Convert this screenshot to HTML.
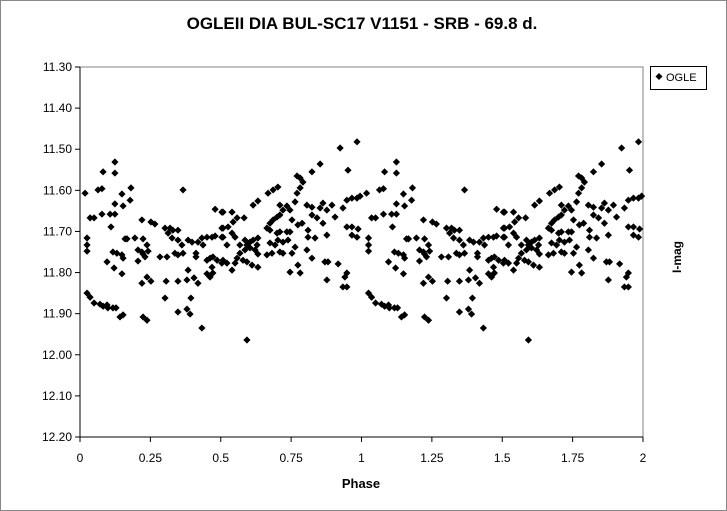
<!DOCTYPE html>
<html><head><meta charset="utf-8"><style>
body{margin:0;background:#fff;}
svg{display:block;font-family:"Liberation Sans",Arial,sans-serif;}
</style></head><body>
<svg id="chart" width="727" height="511" viewBox="0 0 727 511" xmlns="http://www.w3.org/2000/svg">
<rect x="0.5" y="0.5" width="726" height="510" fill="#fff" stroke="#888"/>
<text x="362" y="29" text-anchor="middle" font-size="17" font-weight="bold">OGLEII DIA BUL-SC17 V1151 - SRB - 69.8 d.</text>
<rect x="80" y="67" width="563" height="370" fill="#fff" stroke="#808080"/>
<g id="yaxis"></g>
<g id="xaxis"></g>
<g id="points"></g>
<text x="361" y="488" text-anchor="middle" font-size="13" font-weight="bold">Phase</text>
<text x="0" y="0" transform="translate(681,257) rotate(-90)" text-anchor="middle" font-size="12" font-weight="bold">I-mag</text>
<g>
<rect x="650.5" y="66.5" width="56" height="23" fill="#fff" stroke="#000"/>
<path d="M659,73 L662.5,76.5 L659,80 L655.5,76.5Z" fill="#000"/>
<text x="666" y="81" font-size="11">OGLE</text>
</g>
</svg>
<script>
const xTicks=[0,0.25,0.5,0.75,1,1.25,1.5,1.75,2];
const xTickLabels=["0","0.25","0.5","0.75","1","1.25","1.5","1.75","2"];
const yTicks=[11.3,11.4,11.5,11.6,11.7,11.8,11.9,12.0,12.1,12.2];
const yTickLabels=["11.30","11.40","11.50","11.60","11.70","11.80","11.90","12.00","12.10","12.20"];
const phases=[.018,.025,.025,.025,.036,.050,.064,.078,.082,.124,.124,.078,.107,.124,.110,.124,.149,.153,.178,.181,.160,.167,.195,.224,.117,.131,.149,.153,.096,.121,.149,.206,.220,.224,.231,.238,.242,.206,.220,.252,.266,.238,.252,.220,
.025,.036,.050,.071,.082,.096,.099,.117,.128,.142,.153,.224,.238,.302,.348,.380,.391,.394,.433,.306,.348,.380,.405,.419,.384,.366,.309,.284,.337,.348,.366,.384,.398,.412,.412,.302,.320,.330,.348,.313,.327,.348,.362,.419,.433,.451,.469,.480,.437,.451,.462,.472,.469,.451,.462,.472,.487,.504,.480,.504,.504,.504,
.508,.540,.508,.526,.544,.558,.583,.508,.540,.551,.522,.508,.522,.540,.551,.558,.568,.568,.586,.593,.604,.615,.629,.632,.579,.593,.611,.632,.586,.604,.622,.632,.664,.682,.675,.693,.703,.721,.739,.710,.721,.753,.764,.746,.735,.710,.700,.675,.664,.675,.686,.700,.710,.721,.735,.710,.746,.753,.764,.774,.789,.810,.810,.835,.806,.824,.853,.863,.877,.895,.906,.824,.842,.863,.877,.934,.948,.966,.984,.995,.948,.966,.988,.966,.984,.668,.686,.703,.615,.632,.771,.782,.792,.771,.782,.824,.853,.924,.984,.952,.806,.824,.870,.881,.917,.774,.746,.782,.877,.941,.948,.934,.948,.593];
const mags=[11.607,11.716,11.733,11.748,11.667,11.667,11.599,11.596,11.555,11.531,11.558,11.658,11.658,11.658,11.689,11.633,11.609,11.638,11.624,11.594,11.718,11.718,11.716,11.718,11.750,11.753,11.757,11.765,11.774,11.789,11.803,11.745,11.750,11.755,11.762,11.733,11.748,11.772,11.672,11.677,11.682,11.811,11.821,11.826,
11.850,11.860,11.874,11.877,11.882,11.879,11.886,11.886,11.886,11.908,11.903,11.908,11.916,11.862,11.896,11.889,11.901,11.862,11.935,11.821,11.821,11.818,11.813,11.826,11.794,11.599,11.762,11.762,11.753,11.757,11.753,11.721,11.726,11.753,11.762,11.692,11.692,11.697,11.697,11.704,11.716,11.721,11.733,11.726,11.716,11.714,11.714,11.711,11.733,11.770,11.765,11.762,11.787,11.803,11.811,11.801,11.770,11.777,11.646,11.653,11.692,11.714,
11.653,11.653,11.692,11.689,11.677,11.667,11.667,11.714,11.704,11.714,11.733,11.770,11.777,11.794,11.777,11.765,11.753,11.733,11.721,11.733,11.726,11.721,11.733,11.716,11.770,11.774,11.782,11.787,11.745,11.740,11.745,11.755,11.757,11.753,11.728,11.733,11.721,11.726,11.721,11.750,11.753,11.753,11.738,11.701,11.701,11.701,11.704,11.697,11.692,11.680,11.672,11.665,11.660,11.648,11.638,11.636,11.648,11.672,11.628,11.684,11.680,11.697,11.714,11.716,11.636,11.641,11.643,11.631,11.648,11.636,11.665,11.660,11.667,11.680,11.709,11.643,11.624,11.619,11.619,11.614,11.689,11.689,11.694,11.709,11.714,11.607,11.599,11.592,11.636,11.626,11.565,11.570,11.580,11.607,11.594,11.555,11.536,11.497,11.482,11.551,11.745,11.765,11.774,11.774,11.779,11.782,11.799,11.801,11.818,11.811,11.801,11.835,11.835,11.964];

const NS="http://www.w3.org/2000/svg";
const X0=80,X1=643,Y0=67,Y1=437;
function xs(p){return X0+(p-0)/(2-0)*(X1-X0);}
function ys(m){return Y0+(m-11.3)/(12.2-11.3)*(Y1-Y0);}
const yg=document.getElementById('yaxis');
yTicks.forEach((v,i)=>{
  const y=ys(v);
  const t=document.createElementNS(NS,'line');
  t.setAttribute('x1',X0-5);t.setAttribute('x2',X0);t.setAttribute('y1',y);t.setAttribute('y2',y);t.setAttribute('stroke','#000');
  
  
  yg.appendChild(t);
  const l=document.createElementNS(NS,'text');
  l.setAttribute('x',X0-8);l.setAttribute('y',y+4);l.setAttribute('text-anchor','end');l.setAttribute('font-size','12');
  l.textContent=yTickLabels[i];
  
  
  yg.appendChild(l);
});
const xg=document.getElementById('xaxis');
xTicks.forEach((v,i)=>{
  const x=xs(v);
  const t=document.createElementNS(NS,'line');
  t.setAttribute('x1',x);t.setAttribute('x2',x);t.setAttribute('y1',Y1);t.setAttribute('y2',Y1+5);t.setAttribute('stroke','#000');
  
  
  xg.appendChild(t);
  const l=document.createElementNS(NS,'text');
  l.setAttribute('x',x);l.setAttribute('y',Y1+25);l.setAttribute('text-anchor','middle');l.setAttribute('font-size','12');
  l.textContent=xTickLabels[i];
  
  
  xg.appendChild(l);
});
const al=document.createElementNS(NS,'line');
al.setAttribute('x1',X0);al.setAttribute('x2',X0);al.setAttribute('y1',Y0);al.setAttribute('y2',Y1);al.setAttribute('stroke','#000');


yg.appendChild(al);
const bl=document.createElementNS(NS,'line');
bl.setAttribute('x1',X0);bl.setAttribute('x2',X1);bl.setAttribute('y1',Y1);bl.setAttribute('y2',Y1);bl.setAttribute('stroke','#000');


xg.appendChild(bl);
const pg=document.getElementById('points');
phases.forEach((p,i)=>{
  [p,p+1].forEach(pp=>{
    if(pp<0||pp>2)return;
    const x=xs(pp),y=ys(mags[i]);
    const d=document.createElementNS(NS,'path');
    d.setAttribute('d',`M${x},${y-3.6}L${x+3.6},${y}L${x},${y+3.6}L${x-3.6},${y}Z`);
    d.setAttribute('fill','#000');
    
    
    pg.appendChild(d);
  });
});
</script>
</body></html>
